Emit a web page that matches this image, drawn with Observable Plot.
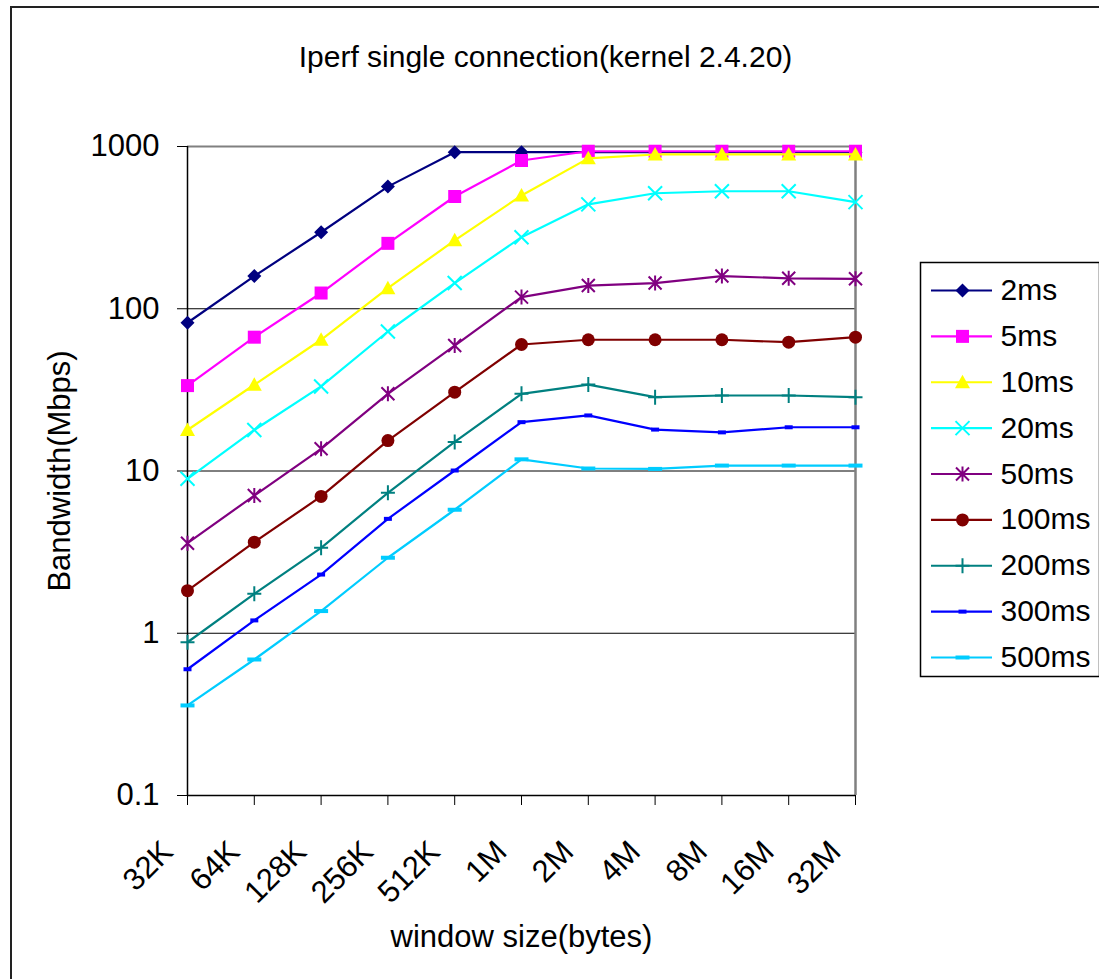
<!DOCTYPE html>
<html><head><meta charset="utf-8">
<script src="https://cdn.jsdelivr.net/npm/d3@7"></script>
<script src="https://cdn.jsdelivr.net/npm/@observablehq/plot@0.6"></script>
<style>
body{margin:0;background:#fff;}
#wrap{position:relative;width:1099px;height:979px;overflow:hidden;background:#fff;font-family:"Liberation Sans",Arial,sans-serif;}
#border{position:absolute;left:10px;top:6px;width:1200px;height:1200px;border:2px solid #222;box-sizing:border-box;}
#main{position:absolute;left:0;top:0;}
#legend{position:absolute;left:920px;top:262px;}
</style></head><body><div id="wrap"><div id="border"></div><div id="main"></div><div id="legend"></div></div>
<script>
const windows = ["32K","64K","128K","256K","512K","1M","2M","4M","8M","16M","32M"];
const seriesNames = ["2ms","5ms","10ms","20ms","50ms","100ms","200ms","300ms","500ms"];
const seriesColors = ["#000080","#FF00FF","#FFFF00","#00FFFF","#800080","#800000","#008080","#0000FF","#00CCFF"];
const bw2ms   = [82, 159, 296, 566, 922, 922, 922, 922, 922, 922, 922];
const bw5ms   = [33.6, 66.8, 125, 253, 492, 820, 935, 935, 935, 935, 935];
const bw10ms  = [17.9, 34, 64.4, 134, 264, 499, 845, 893, 893, 893, 893];
const bw20ms  = [8.95, 17.9, 33.2, 72.4, 144, 276, 440, 515, 530, 530, 454];
const bw50ms  = [3.59, 7.06, 13.7, 29.9, 59.3, 118, 139, 144, 159, 154, 153];
const bw100ms = [1.83, 3.64, 6.97, 15.4, 30.6, 60.2, 64.4, 64.4, 64.4, 62.2, 66.8];
const bw200ms = [0.88, 1.75, 3.36, 7.34, 15.1, 29.9, 34.1, 28.5, 29.2, 29.2, 28.5];
const bw300ms = [0.60, 1.20, 2.30, 5.07, 10.07, 20.0, 22.0, 18.0, 17.3, 18.6, 18.6];
const bw500ms = [0.359, 0.689, 1.37, 2.92, 5.77, 11.8, 10.36, 10.3, 10.8, 10.8, 10.8];
const yTicks = [0.1, 1, 10, 100, 1000];
const yTickLabels = ["0.1", "1", "10", "100", "1000"];
const title = "Iperf single connection(kernel 2.4.20)";
const xLabel = "window size(bytes)";
const yLabel = "Bandwidth(Mbps)";

const allValues = [bw2ms, bw5ms, bw10ms, bw20ms, bw50ms, bw100ms, bw200ms, bw300ms, bw500ms];
const data = seriesNames.flatMap((s, i) => windows.map((w, j) => ({series: s, window: w, value: allValues[i][j]})));

// custom marker symbols (Excel-like)
const sym = {
  diamond: {draw(c){c.moveTo(0,-7);c.lineTo(7,0);c.lineTo(0,7);c.lineTo(-7,0);c.closePath();}},
  square: {draw(c){c.rect(-6.5,-6.5,13,13);}},
  triangle: {draw(c){c.moveTo(0,-7.5);c.lineTo(7.5,6);c.lineTo(-7.5,6);c.closePath();}},
  x: {draw(c){c.moveTo(-7,-7);c.lineTo(7,7);c.moveTo(7,-7);c.lineTo(-7,7);}},
  asterisk: {draw(c){c.moveTo(-6.5,-6.5);c.lineTo(6.5,6.5);c.moveTo(6.5,-6.5);c.lineTo(-6.5,6.5);c.moveTo(0,-7.5);c.lineTo(0,7.5);}},
  circle: {draw(c){c.moveTo(6.5,0);c.arc(0,0,6.5,0,2*Math.PI);}},
  plus: {draw(c){c.moveTo(-7,0);c.lineTo(7,0);c.moveTo(0,-7.5);c.lineTo(0,7.5);}},
  dashS: {draw(c){c.rect(-4,-2,8,4);}},
  dashL: {draw(c){c.rect(-7,-2,14,4);}}
};
const seriesSymbols = [sym.diamond, sym.square, sym.triangle, sym.x, sym.asterisk, sym.circle, sym.plus, sym.dashS, sym.dashL];
const filled = [true, true, true, false, false, true, false, true, true];

const font = '"Liberation Sans", Arial, sans-serif';

const seriesMarks = seriesNames.flatMap((s, i) => {
  const sub = data.filter(d => d.series === s);
  return [
    Plot.line(sub, {x: "window", y: "value", stroke: seriesColors[i], strokeWidth: 2.2}),
    Plot.dot(sub, {x: "window", y: "value", symbol: seriesSymbols[i], r: 5,
      fill: filled[i] ? seriesColors[i] : "none", stroke: filled[i] ? "none" : seriesColors[i], strokeWidth: 2})
  ];
});

const chart = Plot.plot({
  width: 1099, height: 979,
  marginLeft: 187, marginRight: 244, marginTop: 146, marginBottom: 184,
  style: {fontFamily: font, fontSize: "30px", color: "#000", background: "transparent", overflow: "visible"},
  x: {type: "point", domain: windows, padding: 0, round: false},
  y: {type: "log", domain: [0.1, 1000]},
  marks: [
    Plot.ruleY([1, 10, 100], {stroke: "#000", strokeWidth: 1}),
    Plot.ruleY([1000], {stroke: "#808080", strokeWidth: 2}),
    Plot.ruleX(["32M"], {stroke: "#808080", strokeWidth: 2.5}),
    Plot.axisY({ticks: yTicks, tickFormat: d => yTickLabels[yTicks.indexOf(d)], tickSize: 10, tickPadding: 18, fontSize: 31, label: null, stroke: "#000"}),
    Plot.axisX({tickSize: 10, tickFormat: () => "", label: null, stroke: "#000"}),
    Plot.axisX({tickSize: 0, tickRotate: -45, tickPadding: 24, dx: -20, dy: 27, fontSize: 31, label: null}),
    Plot.ruleX(["32K"], {stroke: "#000", strokeWidth: 1.5}),
    Plot.ruleY([0.1], {stroke: "#000", strokeWidth: 1.5}),
    ...seriesMarks,
    Plot.text([title], {frameAnchor: "top", textAnchor: "middle", dx: 24, dy: -89, fontSize: 30, lineAnchor: "middle"}),
    Plot.text([xLabel], {frameAnchor: "bottom", textAnchor: "middle", dx: 0, dy: 142, fontSize: 31, lineAnchor: "middle"}),
    Plot.text([yLabel], {frameAnchor: "left", textAnchor: "middle", dx: -127, rotate: -90, fontSize: 31, lineAnchor: "middle"})
  ]
});
document.getElementById("main").append(chart);

// legend
const legendMarks = [Plot.frame({stroke: "#000", strokeWidth: 1.5})];
seriesNames.forEach((s, i) => {
  const row = [{series: s}];
  legendMarks.push(
    Plot.ruleY(row, {y: "series", x1: 11, x2: 72, stroke: seriesColors[i], strokeWidth: 2.2}),
    Plot.dot(row, {y: "series", x: 42, symbol: seriesSymbols[i], r: 5,
      fill: filled[i] ? seriesColors[i] : "none", stroke: filled[i] ? "none" : seriesColors[i], strokeWidth: 2}),
    Plot.text(row, {y: "series", x: 80, text: "series", textAnchor: "start", fontSize: 30})
  );
});
const legend = Plot.plot({
  width: 179, height: 414,
  margin: 0,
  style: {fontFamily: font, fontSize: "30px", color: "#000", background: "#fff", overflow: "visible"},
  x: {type: "identity", axis: null},
  y: {type: "point", domain: seriesNames, range: [28, 395], padding: 0, round: false, axis: null},
  marks: legendMarks
});
document.getElementById("legend").append(legend);
</script>
</body></html>
